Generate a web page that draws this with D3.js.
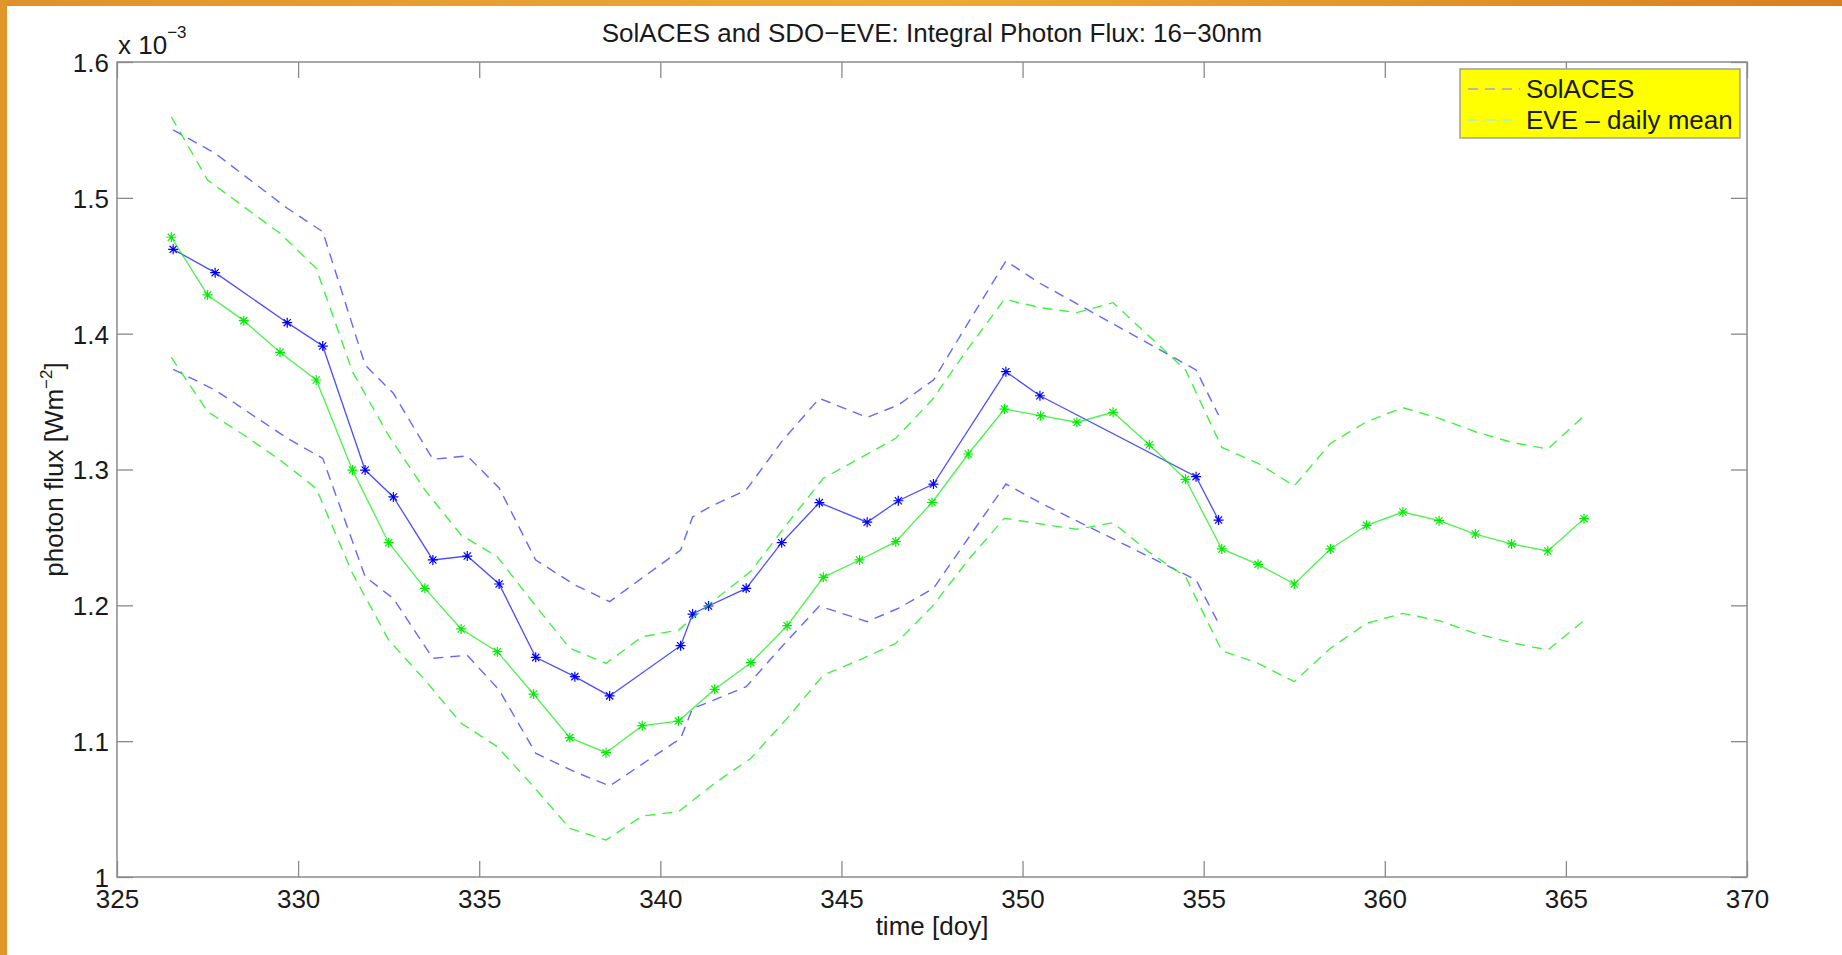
<!DOCTYPE html>
<meta charset="utf-8">
<script src="https://d3js.org/d3.v7.min.js"></script>
<style>
  body { margin: 0; background: #fff; }
  text { font-family: "Liberation Sans", Arial, sans-serif; fill: #1a1a1a; }
</style>
<body>
<div id="chart"></div>
<script>
// SolACES measurements (irregular times), flux in units of 1e-3 W/m^2
var solDays  = [326.55, 327.71, 329.70, 330.68, 331.85, 332.63, 333.72, 334.67, 335.55, 336.56, 337.64, 338.60,
                340.56, 340.89, 341.33, 342.37, 343.35, 344.39, 345.71, 346.57, 347.54, 349.54, 350.48, 354.79, 355.41];
var solMean  = [1.4621, 1.4449, 1.4081, 1.3909, 1.2996, 1.2798, 1.2334, 1.2363, 1.2157, 1.1617, 1.1475, 1.1333,
                1.1703, 1.1936, 1.1995, 1.2125, 1.2461, 1.2756, 1.2612, 1.2770, 1.2893, 1.3720, 1.3543, 1.2947, 1.2628];
var solUpper = [1.5500, 1.5328, 1.4923, 1.4751, 1.3769, 1.3561, 1.3075, 1.3100, 1.2864, 1.2334, 1.2150, 1.2027,
                1.2407, 1.2650, 1.2720, 1.2849, 1.3205, 1.3524, 1.3384, 1.3475, 1.3659, 1.4535, 1.4371, 1.3733, 1.3401];
var solLower = [1.3738, 1.3585, 1.3230, 1.3082, 1.2211, 1.2050, 1.1610, 1.1632, 1.1377, 1.0911, 1.0775, 1.0670,
                1.1021, 1.1242, 1.1286, 1.1401, 1.1695, 1.1995, 1.1880, 1.1978, 1.2125, 1.2893, 1.2756, 1.2187, 1.1868];

// SDO-EVE daily means
var eveDays  = [326.5, 327.5, 328.5, 329.5, 330.5, 331.5, 332.5, 333.5, 334.5, 335.5,
                336.5, 337.5, 338.5, 339.5, 340.5, 341.5, 342.5, 343.5, 344.5, 345.5,
                346.5, 347.5, 348.5, 349.5, 350.5, 351.5, 352.5, 353.5, 354.5, 355.5,
                356.5, 357.5, 358.5, 359.5, 360.5, 361.5, 362.5, 363.5, 364.5, 365.5];
var eveMean  = [1.4710, 1.4285, 1.4096, 1.3863, 1.3659, 1.2996, 1.2461, 1.2125, 1.1826, 1.1659,
                1.1347, 1.1026, 1.0915, 1.1114, 1.1148, 1.1382, 1.1578, 1.1850, 1.2206, 1.2334,
                1.2469, 1.2757, 1.3114, 1.3445, 1.3396, 1.3348, 1.3421, 1.3182, 1.2928, 1.2415,
                1.2302, 1.2157, 1.2415, 1.2589, 1.2687, 1.2623, 1.2525, 1.2452, 1.2400, 1.2638];
var eveUpper = [1.5597, 1.5131, 1.4935, 1.4739, 1.4481, 1.3720, 1.3250, 1.2850, 1.2518, 1.2358,
                1.2015, 1.1684, 1.1573, 1.1769, 1.1818, 1.2040, 1.2250, 1.2600, 1.2935, 1.3082,
                1.3230, 1.3512, 1.3892, 1.4253, 1.4191, 1.4155, 1.4228, 1.3980, 1.3733, 1.3163,
                1.3046, 1.2879, 1.3192, 1.3352, 1.3455, 1.3377, 1.3278, 1.3200, 1.3151, 1.3394];
var eveLower = [1.3826, 1.3426, 1.3254, 1.3070, 1.2860, 1.2236, 1.1745, 1.1450, 1.1132, 1.0959,
                1.0665, 1.0358, 1.0272, 1.0449, 1.0481, 1.0690, 1.0874, 1.1168, 1.1487, 1.1598,
                1.1720, 1.1990, 1.2334, 1.2641, 1.2599, 1.2560, 1.2608, 1.2390, 1.2211, 1.1666,
                1.1573, 1.1438, 1.1684, 1.1868, 1.1941, 1.1887, 1.1794, 1.1725, 1.1671, 1.1887];

var xTicks = [325, 330, 335, 340, 345, 350, 355, 360, 365, 370];
var yTicks = [1, 1.1, 1.2, 1.3, 1.4, 1.5, 1.6];
var legendLabels = ["SolACES", "EVE \u2013 daily mean"];

// figure size and plot box
var W = 1842, H = 955;
var margin = { top: 62, right: 95, bottom: 78, left: 117 },
    width = W - margin.left - margin.right,
    height = H - margin.top - margin.bottom;

var root = d3.select("#chart").append("svg")
    .attr("width", W)
    .attr("height", H);

// orange frame on the top and left edge
var defs = root.append("defs");
var grad = defs.append("linearGradient").attr("id", "frameGrad");
grad.append("stop").attr("offset", "0%").attr("stop-color", "#e0922a");
grad.append("stop").attr("offset", "50%").attr("stop-color", "#eeaa35");
grad.append("stop").attr("offset", "100%").attr("stop-color", "#d8801e");
root.append("rect").attr("x", 0).attr("y", 0).attr("width", W).attr("height", 6).attr("fill", "url(#frameGrad)");
root.append("rect").attr("x", 0).attr("y", 0).attr("width", 7).attr("height", H).attr("fill", "#e0962a");

var svg = root.append("g")
    .attr("transform", "translate(" + margin.left + "," + margin.top + ")");

var x = d3.scaleLinear().domain([325, 370]).range([0, width]);
var y = d3.scaleLinear().domain([1, 1.6]).range([height, 0]);

var axisColor = "#8a8a8a";
var fmt = function(d) { return String(+d.toFixed(1)); };

// bottom axis with labels, ticks pointing inwards
var gx = svg.append("g")
    .attr("transform", "translate(0," + height + ")")
    .call(d3.axisBottom(x).tickValues(xTicks).tickSizeInner(-16).tickSizeOuter(0).tickPadding(12).tickFormat(fmt));
var gy = svg.append("g")
    .call(d3.axisLeft(y).tickValues(yTicks).tickSizeInner(-16).tickSizeOuter(0).tickPadding(8).tickFormat(fmt));
// top and right: ticks only
var gt = svg.append("g")
    .call(d3.axisTop(x).tickValues(xTicks).tickSizeInner(-16).tickSizeOuter(0).tickFormat(""));
var gr = svg.append("g")
    .attr("transform", "translate(" + width + ",0)")
    .call(d3.axisRight(y).tickValues(yTicks).tickSizeInner(-16).tickSizeOuter(0).tickFormat(""));

[gx, gy, gt, gr].forEach(function(g) {
    g.select(".domain").remove();
    g.selectAll(".tick line").attr("stroke", axisColor).attr("stroke-width", 1.3);
    g.selectAll(".tick text").attr("font-size", 26).attr("font-family", "Liberation Sans, Arial, sans-serif").attr("fill", "#1a1a1a");
});
gx.selectAll(".tick text").attr("dy", "0.72em");
gy.selectAll(".tick text").attr("dy", "0.36em");

// box around the plot
svg.append("rect")
    .attr("width", width).attr("height", height)
    .attr("fill", "none").attr("stroke", axisColor).attr("stroke-width", 1.5);

// series
var line = d3.line()
    .x(function(d) { return x(d[0]); })
    .y(function(d) { return y(d[1]); });

var star = "M-5,0H5M0,-5V5M-3.6,-3.6L3.6,3.6M-3.6,3.6L3.6,-3.6";

function drawSeries(days, mean, upper, lower, color, dashOpacity) {
    [upper, lower].forEach(function(v) {
        svg.append("path")
            .datum(d3.zip(days, v))
            .attr("d", line)
            .attr("fill", "none")
            .attr("stroke", color)
            .attr("stroke-opacity", dashOpacity)
            .attr("stroke-width", 1.4)
            .attr("stroke-dasharray", "10,7");
    });
    svg.append("path")
        .datum(d3.zip(days, mean))
        .attr("d", line)
        .attr("fill", "none")
        .attr("stroke", color)
        .attr("stroke-opacity", 0.7)
        .attr("stroke-width", 1.3);
    svg.append("g").selectAll("path")
        .data(d3.zip(days, mean))
        .enter()
        .append("path")
            .attr("transform", function(d) { return "translate(" + x(d[0]) + "," + y(d[1]) + ")"; })
            .attr("d", star)
            .attr("fill", "none")
            .attr("stroke", color)
            .attr("stroke-width", 1.2);
}

drawSeries(solDays, solMean, solUpper, solLower, "#0000ff", 0.6);
drawSeries(eveDays, eveMean, eveUpper, eveLower, "#00ee00", 0.75);

// title
root.append("text")
    .attr("x", margin.left + width / 2)
    .attr("y", 42)
    .attr("text-anchor", "middle")
    .attr("font-size", 26)
    .text("SolACES and SDO\u2212EVE: Integral Photon Flux: 16\u221230nm");

// exponent above the y axis
var expo = root.append("text")
    .attr("x", margin.left + 1)
    .attr("y", 54)
    .attr("font-size", 26);
expo.append("tspan").text("x 10");
expo.append("tspan").attr("dy", -16).attr("font-size", 17).text("\u22123");

// axis titles
root.append("text")
    .attr("x", margin.left + width / 2)
    .attr("y", 935)
    .attr("text-anchor", "middle")
    .attr("font-size", 26)
    .text("time [doy]");

var yl = root.append("text")
    .attr("transform", "translate(63," + (margin.top + height / 2) + ") rotate(-90)")
    .attr("text-anchor", "middle")
    .attr("font-size", 26);
yl.append("tspan").text("photon flux [Wm");
yl.append("tspan").attr("dy", -11).attr("font-size", 17).text("\u22122");
yl.append("tspan").attr("dy", 11).text("]");

// legend
var legend = root.append("g").attr("transform", "translate(1460,69)");
legend.append("rect")
    .attr("width", 280).attr("height", 69)
    .attr("fill", "#ffff00")
    .attr("stroke", "#a0a0a0").attr("stroke-width", 1.5);
var legendColors = ["#a4a4d4", "#9ef2dc"];
legendLabels.forEach(function(lab, i) {
    var yy = 20 + i * 31;
    legend.append("line")
        .attr("x1", 8).attr("x2", 60).attr("y1", yy).attr("y2", yy)
        .attr("stroke", legendColors[i]).attr("stroke-width", 1.4)
        .attr("stroke-dasharray", "10,7");
    legend.append("text")
        .attr("x", 66).attr("y", yy + 9)
        .attr("font-size", 26)
        .text(lab);
});
</script>
</body>
